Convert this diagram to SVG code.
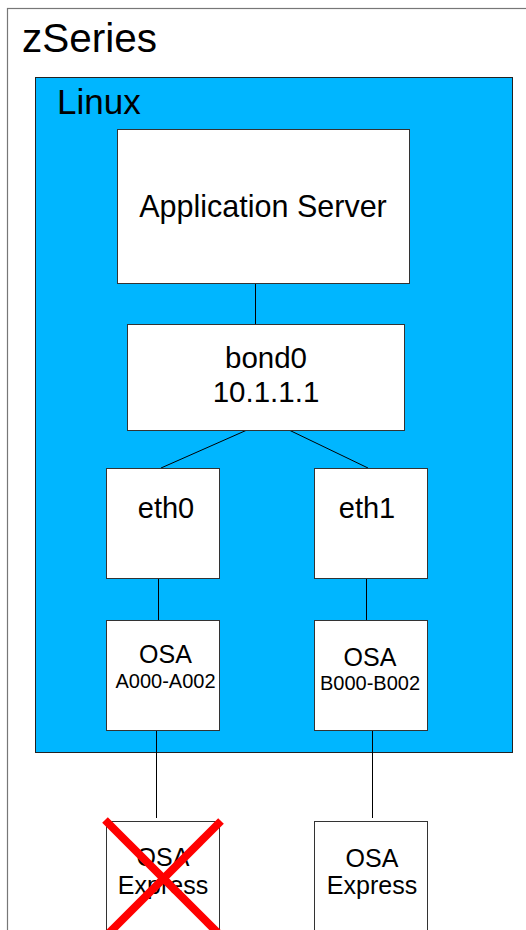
<svg xmlns="http://www.w3.org/2000/svg" width="526" height="930" viewBox="0 0 526 930">
<style>
text{font-family:"Liberation Sans",Arial,sans-serif;fill:#000;text-anchor:middle}
.box{fill:#fff;stroke:#333;stroke-width:1}
.ln{stroke:#000;stroke-width:1;fill:none}
</style>
<rect width="526" height="930" fill="#fff"/>
<g id="zseries">
<rect x="7.5" y="8.5" width="530" height="940" fill="#fff" stroke="#777" stroke-width="1.2"/>
<text x="22" y="52" font-size="40.5" style="text-anchor:start">zSeries</text>
</g>
<g id="linux">
<rect x="35.5" y="77.5" width="477" height="675" fill="#00b6ff" stroke="#222" stroke-width="1"/>
<text x="57" y="114" font-size="35" style="text-anchor:start">Linux</text>
</g>
<g id="connectors">
<line class="ln" x1="255.5" y1="283" x2="255.5" y2="324"/>
<line class="ln" x1="247" y1="430" x2="161" y2="468"/>
<line class="ln" x1="289" y1="430" x2="368" y2="468"/>
<line class="ln" x1="158.5" y1="578" x2="158.5" y2="620"/>
<line class="ln" x1="366.5" y1="578" x2="366.5" y2="620"/>
<line class="ln" x1="156.5" y1="730" x2="156.5" y2="818"/>
<line class="ln" x1="372.5" y1="730" x2="372.5" y2="818"/>
</g>
<g id="app-server">
<rect class="box" x="117.5" y="129.5" width="292" height="154"/>
<text x="263" y="217" font-size="30.5">Application Server</text>
</g>
<g id="bond0">
<rect class="box" x="127.5" y="324.5" width="277" height="106"/>
<text x="266" y="368" font-size="29.5">bond0</text>
<text x="266" y="402" font-size="29.5">10.1.1.1</text>
</g>
<g id="eth0">
<rect class="box" x="106.5" y="468.5" width="113" height="110"/>
<text x="166" y="518" font-size="29">eth0</text>
</g>
<g id="eth1">
<rect class="box" x="314.5" y="468.5" width="113" height="110"/>
<text x="367" y="518" font-size="29">eth1</text>
</g>
<g id="osa-a">
<rect class="box" x="106.5" y="620.5" width="113" height="110"/>
<text x="165.5" y="663" font-size="25">OSA</text>
<text x="165.5" y="688" font-size="20">A000-A002</text>
</g>
<g id="osa-b">
<rect class="box" x="314.5" y="620.5" width="113" height="110"/>
<text x="370" y="666" font-size="25">OSA</text>
<text x="370" y="690" font-size="20">B000-B002</text>
</g>
<g id="osa-express-1">
<rect class="box" x="106.5" y="821.5" width="113" height="130"/>
<text x="163" y="866" font-size="25">OSA</text>
<text x="163" y="894" font-size="25">Express</text>
<line x1="105" y1="820" x2="219" y2="934" stroke="#f00" stroke-width="8"/>
<line x1="221" y1="821" x2="108" y2="934" stroke="#f00" stroke-width="8"/>
</g>
<g id="osa-express-2">
<rect class="box" x="314.5" y="821.5" width="113" height="130"/>
<text x="372" y="867" font-size="25">OSA</text>
<text x="372" y="894" font-size="25">Express</text>
</g>
</svg>
